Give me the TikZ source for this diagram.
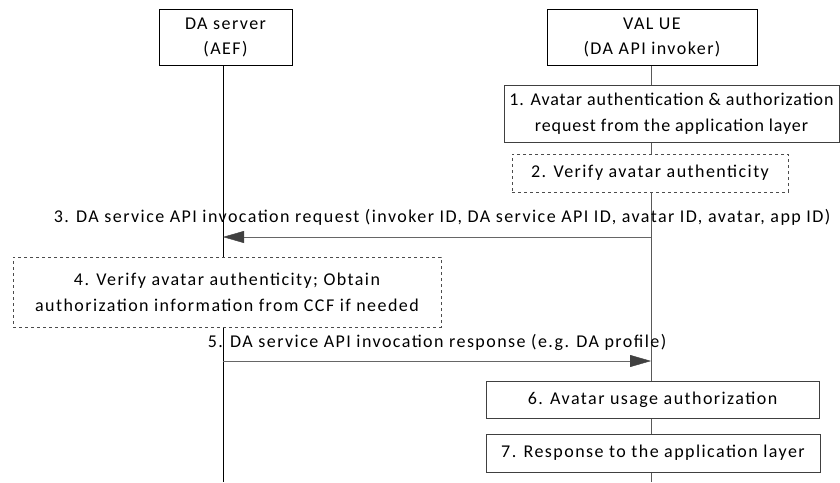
\documentclass[tikz,border=0pt]{standalone}
\usepackage{fontspec}
\setmainfont{Carlito}[LetterSpace=8]
\usetikzlibrary{arrows.meta}
\usetikzlibrary{backgrounds}

\begin{document}
\begin{tikzpicture}[x=1pt,y=-1pt]
  \tikzset{entity/.style = {shape=rectangle,draw=black,fill=white,align=center,inner sep=0pt,font=\fontsize{18}{25}\selectfont}}
  \tikzset{action/.style = {shape=rectangle,draw=black!75,fill=white,align=center,inner sep=0pt,font=\fontsize{18}{26}\selectfont}}
  \tikzset{check/.style = {action,dashed,draw=black!70}}
  \tikzset{msglabel/.style = {inner sep=0pt,font=\fontsize{18}{25}\selectfont}}
  \tikzset{msg/.style = {draw=black!60,-{Triangle[length=21pt,width=12pt,fill=black!75,color=black!75]}}}

  \useasboundingbox (0,0) rectangle (840,482);

	\node[entity,minimum width=133pt,minimum height=56pt] (srv) at (225.5,37) {DA server\\(AEF)};
	\node[entity,minimum width=210pt,minimum height=56pt] (ue) at (652,37) {VAL UE\\(DA API invoker)};

	\node[action,minimum width=335pt,minimum height=57pt,font=\fontsize{18}{26}\selectfont\addfontfeature{LetterSpace=5}] (s1) at (671.5,113.5) {1. Avatar authentication \& authorization\\request from the application layer};
	\node[check,minimum width=276pt,minimum height=38pt] (s2) at (650,173) {2. Verify avatar authenticity};
	\node[check,minimum width=428pt,minimum height=70pt] (s4) at (227,292) {4. Verify avatar authenticity; Obtain\\authorization information from CCF if needed};
	\node[action,minimum width=333pt,minimum height=37pt] (s6) at (652.5,399.5) {6. Avatar usage authorization};
	\node[action,minimum width=334pt,minimum height=38pt] (s7) at (653,453) {7. Response to the application layer};

	\coordinate (srvEnd) at (223,482);
	\coordinate (ueEnd) at (651,482);
	\coordinate (ue3) at (651,237);
	\coordinate (srv3) at (223,237);
	\coordinate (srv5) at (223,361);
	\coordinate (ue5) at (651,361);

	\node[msglabel] (l3) at (442,217) {3. DA service API invocation request (invoker ID, DA service API ID, avatar ID, avatar, app ID)};
	\node[msglabel] (l5) at (437,342) {5. DA service API invocation response (e.g. DA profile)};

    \begin{scope}[on background layer]
    \draw[black] (srv.south -| srvEnd) -- (srvEnd);
    \draw[black!65] (ue.south -| ueEnd) -- (ueEnd);
    \end{scope}

    \foreach \from/\to in {ue3/srv3, srv5/ue5}
    \draw[msg] (\from) -- (\to);

\end{tikzpicture}
\end{document}
